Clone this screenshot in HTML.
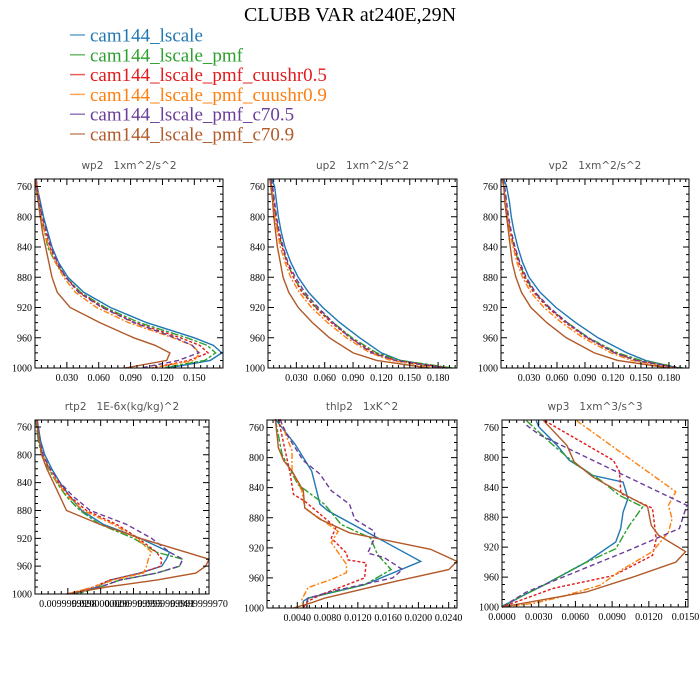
<!DOCTYPE html>
<html><head><meta charset="utf-8"><style>
html,body{margin:0;padding:0;background:#fff;}
svg{display:block;}
.tl{font-family:"Liberation Serif",serif;font-size:10px;fill:#000;}
.pt{font-family:"DejaVu Sans","Liberation Sans",sans-serif;font-size:10.5px;fill:#555;white-space:pre;}
</style></head><body>
<svg id="chart" width="700" height="700" viewBox="0 0 700 700">
<text x="350" y="21" text-anchor="middle" font-family="Liberation Serif,serif" font-size="20">CLUBB VAR at240E,29N</text>
<g id="legend"></g>
<g id="panels"></g>
</svg>
<script>
const seriesNames=["cam144_lscale","cam144_lscale_pmf","cam144_lscale_pmf_cuushr0.5","cam144_lscale_pmf_cuushr0.9","cam144_lscale_pmf_c70.5","cam144_lscale_pmf_c70.9"];
const colors=["#1f77b4","#2ca02c","#e31a1c","#ff7f0e","#6a3d9a","#b15928"];
const dashes=["","8,2,3,2","3,2","6,2,2,2","5,3",""];

// wp2
const wp2P=[750,760,780,800,820,840,860,880,900,920,940,960,970,980,990,1000];
const wp2Vals=[
[0.001,0.002,0.005,0.008,0.012,0.016,0.022,0.031,0.046,0.071,0.105,0.150,0.168,0.176,0.165,0.125],
[0.001,0.001,0.003,0.005,0.009,0.012,0.019,0.029,0.043,0.066,0.098,0.143,0.162,0.170,0.160,0.12],
[0.001,0.002,0.004,0.006,0.010,0.014,0.020,0.029,0.042,0.064,0.094,0.137,0.155,0.163,0.145,0.11],
[0.001,0.002,0.004,0.006,0.009,0.013,0.019,0.027,0.038,0.058,0.088,0.130,0.148,0.155,0.150,0.11],
[0.001,0.002,0.004,0.007,0.011,0.015,0.021,0.029,0.041,0.063,0.093,0.132,0.148,0.154,0.135,0.10],
[0.001,0.001,0.003,0.005,0.007,0.010,0.013,0.016,0.021,0.033,0.061,0.093,0.113,0.127,0.124,0.085]];
// up2
const up2P=[750,760,780,800,820,840,860,880,900,920,940,960,980,990,1000];
const up2Vals=[
[0.004,0.007,0.009,0.011,0.014,0.018,0.024,0.032,0.043,0.058,0.076,0.097,0.12,0.14,0.19],
[0.002,0.004,0.006,0.008,0.011,0.015,0.020,0.027,0.037,0.051,0.069,0.089,0.115,0.14,0.195],
[0.002,0.004,0.006,0.008,0.011,0.015,0.020,0.027,0.036,0.050,0.067,0.087,0.112,0.135,0.19],
[0.002,0.004,0.005,0.007,0.010,0.013,0.018,0.024,0.033,0.046,0.063,0.083,0.108,0.13,0.18],
[0.003,0.005,0.007,0.009,0.012,0.016,0.021,0.029,0.039,0.053,0.069,0.087,0.11,0.135,0.185],
[0.002,0.003,0.005,0.006,0.008,0.010,0.013,0.016,0.022,0.032,0.047,0.065,0.09,0.115,0.17]];
// vp2
const vp2P=[750,760,780,800,820,840,860,880,900,920,940,960,980,990,1000];
const vp2Vals=[
[0.003,0.006,0.009,0.011,0.014,0.018,0.023,0.030,0.042,0.059,0.080,0.104,0.135,0.155,0.19],
[0.002,0.003,0.005,0.007,0.010,0.014,0.019,0.026,0.036,0.051,0.071,0.094,0.125,0.15,0.195],
[0.002,0.003,0.005,0.007,0.010,0.014,0.019,0.025,0.035,0.050,0.069,0.092,0.122,0.145,0.19],
[0.002,0.003,0.005,0.007,0.009,0.013,0.017,0.023,0.032,0.046,0.065,0.088,0.118,0.14,0.185],
[0.002,0.004,0.006,0.008,0.011,0.015,0.020,0.027,0.037,0.052,0.071,0.093,0.122,0.145,0.19],
[0.001,0.003,0.004,0.006,0.008,0.010,0.012,0.016,0.022,0.032,0.049,0.070,0.100,0.125,0.18]];
// rtp2
const rtp2P=[750,760,780,800,820,840,860,880,900,920,940,950,960,970,980,990,1000];
const rtp2Vals=[
[0.0005,0.001,0.0017,0.003,0.0051,0.0076,0.0107,0.0142,0.0208,0.032,0.041,0.040,0.0386,0.032,0.0228,0.0188,0.0117],
[0.0003,0.0005,0.001,0.002,0.0041,0.0066,0.0096,0.0137,0.0198,0.03,0.037,0.045,0.044,0.037,0.0259,0.0198,0.0127],
[0.0005,0.0007,0.0013,0.0023,0.0044,0.0071,0.0107,0.0157,0.0249,0.0315,0.037,0.0386,0.0383,0.032,0.0228,0.0178,0.0107],
[0.0005,0.0007,0.0013,0.0023,0.0044,0.0068,0.0101,0.0147,0.0239,0.0310,0.0355,0.0345,0.0340,0.0330,0.0239,0.0178,0.0096],
[0.0007,0.001,0.0015,0.0025,0.0046,0.0076,0.0117,0.0168,0.0279,0.0355,0.041,0.045,0.044,0.037,0.0259,0.0198,0.0107],
[0.0005,0.0007,0.0013,0.002,0.0036,0.0056,0.0076,0.0096,0.0198,0.032,0.046,0.053,0.052,0.049,0.037,0.0218,0.0096]];
// thlp2 (each series its own levels)
const thlp2P=[
[749,782,818,862,871,938,969,987,991,1000],
[749,796,836,862,889,907,929,949,969,987,993,1000],
[749,800,818,849,858,893,907,927,936,940,960,982,991,1000],
[749,791,818,844,867,898,913,942,953,962,973,989,1000],
[749,769,804,822,844,862,882,898,907,927,933,949,960,978,987,1000],
[749,787,804,818,844,867,882,900,922,938,949,964,987,993,1000]];
const thlp2Vals=[
[0.0011,0.0037,0.0059,0.0070,0.0081,0.0203,0.0129,0.0054,0.0048,0.0048],
[0.0011,0.0020,0.0041,0.0076,0.0098,0.0137,0.0146,0.0164,0.0129,0.0054,0.0052,0.0054],
[0.0015,0.0026,0.0030,0.0035,0.0050,0.0091,0.0085,0.0105,0.0107,0.0131,0.0129,0.0072,0.0054,0.0048],
[0.0017,0.0033,0.0033,0.0046,0.0050,0.0094,0.0085,0.0105,0.0105,0.0085,0.0054,0.0046,0.0048],
[0.0017,0.0026,0.0048,0.0070,0.0085,0.0109,0.0116,0.0142,0.0142,0.0133,0.0155,0.0179,0.0166,0.0085,0.0054,0.0052],
[0.0011,0.0015,0.0022,0.0033,0.0048,0.0050,0.0070,0.0109,0.0216,0.0251,0.0240,0.0172,0.0076,0.0059,0.0035]];
// wp3
const wp3P=[
[751,759,784,804,815,824,833,855,873,895,913,940,971,984,1000],
[751,784,810,830,851,866,891,922,944,971,998,1000],
[751,804,819,844,848,868,909,931,958,975,1000],
[751,846,864,882,900,926,949,971,987,995,1000],
[757,770,864,895,926,980,1000],
[751,784,806,826,846,866,891,904,926,940,960,980,1000]];
const wp3Vals=[
[0.0028,0.0030,0.0045,0.0055,0.0066,0.0074,0.0099,0.0103,0.0099,0.0097,0.0093,0.0069,0.0034,0.0018,0],
[0.0020,0.0042,0.0061,0.0080,0.0096,0.0115,0.0104,0.0093,0.0064,0.0034,0.0001,0],
[0.0035,0.0091,0.0096,0.0097,0.0097,0.0123,0.0126,0.0123,0.0091,0.0042,0],
[0.0061,0.0142,0.0136,0.0139,0.0136,0.0123,0.0099,0.0080,0.0047,0.0026,0],
[0.0020,0.0031,0.0151,0.0145,0.0101,0.0020,0],
[0.0034,0.0053,0.0059,0.0074,0.0096,0.0119,0.0122,0.0128,0.0150,0.0142,0.0107,0.0069,0]];

const yTicks=[760,800,840,880,920,960,1000];
const xTicksA=[0.03,0.06,0.09,0.12,0.15];
const xLabelsA=["0.030","0.060","0.090","0.120","0.150"];
const xTicksB=[0.03,0.06,0.09,0.12,0.15,0.18];
const xLabelsB=["0.030","0.060","0.090","0.120","0.150","0.180"];
const xTicksR=[0.01,0.02,0.03,0.04,0.05];
const xLabelsR=["0.0099999998","0.0200000000","0.0299999993","0.0399999991","0.0499999970"];
const xTicksT=[0.004,0.008,0.012,0.016,0.020,0.024];
const xLabelsT=["0.0040","0.0080","0.0120","0.0160","0.0200","0.0240"];
const xTicksW=[0,0.003,0.006,0.009,0.012,0.015];
const xLabelsW=["0.0000","0.0030","0.0060","0.0090","0.0120","0.0150"];

const panels=[
{id:"wp2",title:"wp2   1xm^2/s^2",L:35,R:223,T:179,B:368,xmin:0,xmax:0.177,ticks:xTicksA,labels:xLabelsA,minor:0.006,P:wp2P,V:wp2Vals,shared:true,fs:10},
{id:"up2",title:"up2   1xm^2/s^2",L:268,R:457,T:179,B:368,xmin:0,xmax:0.2,ticks:xTicksB,labels:xLabelsB,minor:0.006,P:up2P,V:up2Vals,shared:true,fs:10},
{id:"vp2",title:"vp2   1xm^2/s^2",L:501,R:689,T:179,B:368,xmin:0,xmax:0.2015,ticks:xTicksB,labels:xLabelsB,minor:0.006,P:vp2P,V:vp2Vals,shared:true,fs:10},
{id:"rtp2",title:"rtp2   1E-6x(kg/kg)^2",L:35,R:209,T:420,B:594,xmin:0,xmax:0.053,ticks:xTicksR,labels:xLabelsR,minor:0.002,P:rtp2P,V:rtp2Vals,shared:true,fs:9},
{id:"thlp2",title:"thlp2   1xK^2",L:267,R:457,T:420,B:608,xmin:0,xmax:0.0251,ticks:xTicksT,labels:xLabelsT,minor:0.0008,P:thlp2P,V:thlp2Vals,shared:false,fs:10},
{id:"wp3",title:"wp3   1xm^3/s^3",L:502,R:688,T:420,B:607,xmin:0,xmax:0.0152,ticks:xTicksW,labels:xLabelsW,minor:0.0006,P:wp3P,V:wp3Vals,shared:false,fs:10}];

const NS="http://www.w3.org/2000/svg";
function mk(tag,attrs,parent){const e=document.createElementNS(NS,tag);for(const k in attrs)e.setAttribute(k,attrs[k]);parent.appendChild(e);return e;}

const leg=document.getElementById('legend');
seriesNames.forEach((n,i)=>{
  const y=35+i*19.8;
  const g=mk('g',{},leg);
  
  
  mk('line',{x1:70,x2:85,y1:y,y2:y,stroke:colors[i],'stroke-width':1.5,'stroke-opacity':0.7},g);
  const t=mk('text',{x:90,y:y+6.5,fill:colors[i],'font-family':'Liberation Serif,serif','font-size':19},g);
  t.textContent=n;
});

const root=document.getElementById('panels');
panels.forEach(p=>{
  const g=mk('g',{},root);
  
  
  const sx=v=>p.L+(v-p.xmin)/(p.xmax-p.xmin)*(p.R-p.L);
  const sy=v=>p.T+(v-750)/250*(p.B-p.T);
  const t=mk('text',{x:(p.L+p.R)/2,y:p.T-10,'text-anchor':'middle',class:'pt'},g);
  
  
  t.setAttribute('xml:space','preserve');
  t.textContent=p.title;
  p.V.forEach((vals,i)=>{
    const P=p.shared?p.P:p.P[i];
    const d=vals.map((v,j)=>(j?'L':'M')+sx(v).toFixed(1)+','+sy(P[j]).toFixed(1)).join('');
    const path=mk('path',{d:d,fill:'none',stroke:colors[i],'stroke-width':1.4,'stroke-dasharray':dashes[i]},g);
    
    
  });
  const fr=mk('rect',{x:p.L,y:p.T,width:p.R-p.L,height:p.B-p.T,fill:'none',stroke:'#000','stroke-width':1},g);
  
  
  let tk='';
  for(let v=750;v<=1000;v+=10){const y=sy(v);const len=(v%40===0&&v>=760)?6:3;tk+=`M${p.L},${y}h${len}M${p.R},${y}h${-len}`;}
  const nMinor=Math.floor((p.xmax-p.xmin)/p.minor+1e-6);
  for(let k=0;k<=nMinor;k++){const x=sx(p.xmin+k*p.minor);tk+=`M${x},${p.B}v-3M${x},${p.T}v3`;}
  p.ticks.forEach(v=>{const x=sx(v);tk+=`M${x},${p.B}v-6M${x},${p.T}v6`;});
  const tp=mk('path',{d:tk,stroke:'#000','stroke-width':1,fill:'none'},g);
  
  
  yTicks.forEach(v=>{
    const l=mk('text',{x:p.L-3,y:sy(v)+3.5,'text-anchor':'end',class:'tl'},g);
    
    
    l.textContent=v;
  });
  p.ticks.forEach((v,k)=>{
    const l=mk('text',{x:sx(v),y:p.B+13,'text-anchor':'middle',class:'tl','font-size':p.fs},g);
    
    
    l.textContent=p.labels[k];
  });
});
</script>
</body></html>
